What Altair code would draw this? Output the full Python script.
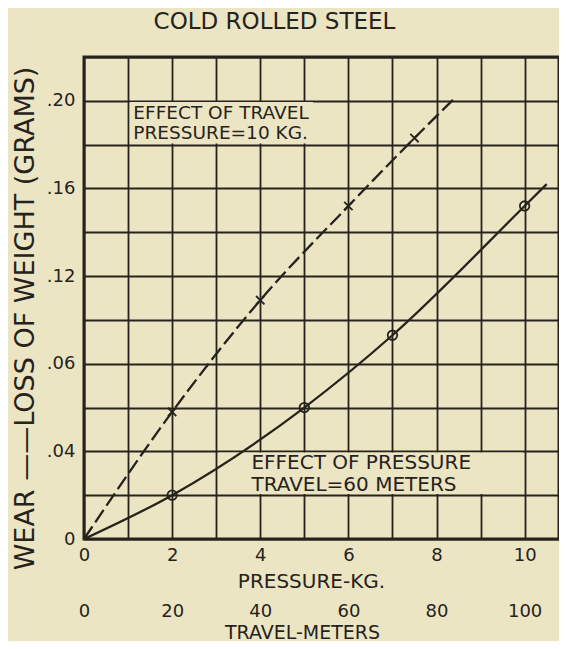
import altair as alt
import pandas as pd

# ---------------- data ----------------
# Effect of pressure (travel = 60 m): pressure [kg] vs wear [g]
pressure_pts_x = [2, 5, 7, 10]
pressure_pts_y = [0.020, 0.060, 0.093, 0.152]
pressure_curve_x = [0, 2, 5, 7, 10, 10.5]
pressure_curve_y = [0, 0.020, 0.060, 0.093, 0.152, 0.162]

# Effect of travel (pressure = 10 kg): travel [m] vs wear [g]
travel_pts_x = [20, 40, 60, 75]
travel_pts_y = [0.058, 0.109, 0.152, 0.183]
travel_curve_x = [0, 20, 40, 60, 75, 84.5]
travel_curve_y = [0, 0.058, 0.109, 0.152, 0.183, 0.202]

x_grid_values = [0, 1, 2, 3, 4, 5, 6, 7, 8, 9, 10]
x_label_values = [0, 2, 4, 6, 8, 10]
travel_tick_values = [0, 20, 40, 60, 80, 100]
y_grid_values = [0, 0.02, 0.04, 0.06, 0.08, 0.10, 0.12, 0.14, 0.16, 0.18, 0.20, 0.22]
y_label_values = [0, 0.04, 0.08, 0.12, 0.16, 0.20]
y_label_texts = ["0", ".04", ".06", ".12", ".16", ".20"]

travel_note = ["EFFECT OF TRAVEL\nPRESSURE=10 KG."]
travel_note_x = [1.12]
travel_note_y = [0.1985]
pressure_note = ["EFFECT OF PRESSURE\nTRAVEL=60 METERS"]
pressure_note_x = [3.8]
pressure_note_y = [0.0392]
box_x1 = [1.04, 3.05]
box_x2 = [5.2, 9.95]
box_y1 = [0.1805, 0.0205]
box_y2 = [0.1995, 0.0395]

# ---------------- styling ----------------
BG = "#ECE5C4"
INK = "#26221c"
FONT = "DejaVu Sans"

y_expr = " : ".join(
    f"round(datum.value*100) == {round(v * 100)} ? '{t}'" for v, t in zip(y_label_values, y_label_texts)
) + " : ''"
x_expr = "indexof(" + str(x_label_values) + ", datum.value) >= 0 ? datum.label : ''"

y_scale = alt.Scale(domain=[0, 0.22], nice=False, zero=True)
p_scale = alt.Scale(domain=[0, 10.78], nice=False)
t_scale = alt.Scale(domain=[0, 107.8], nice=False)

y_axis = alt.Axis(
    values=y_grid_values, labelExpr=y_expr, grid=True, ticks=False, domain=False,
    labelFontSize=18, labelPadding=9, labelFont=FONT, labelColor=INK,
    title="WEAR ——LOSS OF WEIGHT (GRAMS)", titleFontSize=27, titleFont=FONT,
    titleFontWeight="normal", titleColor=INK, titleX=-59, titleY=261,
    titleAngle=270, titleBaseline="middle", titleAlign="center",
)
p_axis = alt.Axis(
    values=x_grid_values, labelExpr=x_expr, grid=True, ticks=False, domain=False,
    labelFontSize=18, labelPadding=7, labelFont=FONT, labelColor=INK, labelFlush=False,
    title="PRESSURE-KG.", titleFontSize=20, titleFont=FONT, titleFontWeight="normal",
    titleColor=INK, titleX=227, titleY=42, titleBaseline="middle", orient="bottom",
)
t_axis = alt.Axis(
    values=travel_tick_values, grid=False, ticks=False, domain=False, orient="bottom", offset=57,
    labelFontSize=18, labelPadding=6, labelFont=FONT, labelColor=INK, labelFlush=False,
    title="TRAVEL-METERS", titleFontSize=19, titleFont=FONT, titleFontWeight="normal",
    titleColor=INK, titleX=218, titleY=36, titleBaseline="middle",
)

p_curve = pd.DataFrame({"p": pressure_curve_x, "w": pressure_curve_y})
p_pts = pd.DataFrame({"p": pressure_pts_x, "w": pressure_pts_y})
t_curve = pd.DataFrame({"t": travel_curve_x, "w": travel_curve_y})
t_pts = pd.DataFrame({"t": travel_pts_x, "w": travel_pts_y})
note_t = pd.DataFrame({"p": travel_note_x, "w": travel_note_y, "txt": travel_note})
note_p = pd.DataFrame({"p": pressure_note_x, "w": pressure_note_y, "txt": pressure_note})
boxes = pd.DataFrame({"p": box_x1, "p2": box_x2, "w": box_y1, "w2": box_y2})

px = alt.X("p:Q", scale=p_scale, axis=p_axis)
wy = alt.Y("w:Q", scale=y_scale, axis=y_axis)

box_layer = alt.Chart(boxes).mark_rect(fill=BG, stroke=None).encode(
    x=px, x2="p2:Q", y=wy, y2="w2:Q"
)
note_t_layer = alt.Chart(note_t).mark_text(
    align="left", baseline="top", font=FONT, fontSize=18.5, lineHeight=20, color=INK,
    lineBreak="\n",
).encode(x=px, y=wy, text="txt:N")
note_p_layer = alt.Chart(note_p).mark_text(
    align="left", baseline="top", font=FONT, fontSize=20, lineHeight=22, color=INK,
    lineBreak="\n",
).encode(x=px, y=wy, text="txt:N")
p_line = alt.Chart(p_curve).mark_line(
    color=INK, strokeWidth=2.3, interpolate="monotone"
).encode(x=px, y=wy)
p_marks = alt.Chart(p_pts).mark_point(
    shape="circle", filled=False, size=90, color=INK, strokeWidth=1.8, opacity=1
).encode(x=px, y=wy)

tx = alt.X("t:Q", scale=t_scale, axis=t_axis)
t_line = alt.Chart(t_curve).mark_line(
    color=INK, strokeWidth=2.3, strokeDash=[15, 5], interpolate="monotone"
).encode(x=tx, y=alt.Y("w:Q", scale=y_scale))
t_marks = alt.Chart(t_pts).mark_point(
    shape="M-1,-1L1,1M-1,1L1,-1", filled=False, size=70, color=INK, strokeWidth=1.8, opacity=1
).encode(x=tx, y=alt.Y("w:Q", scale=y_scale))

pressure_layer = alt.layer(box_layer, note_t_layer, note_p_layer, p_line, p_marks)
travel_layer = alt.layer(t_line, t_marks)

chart = (
    alt.layer(pressure_layer, travel_layer)
    .resolve_scale(x="independent")
    .resolve_axis(x="independent")
    .properties(
        width=475, height=482,
        autosize=alt.AutoSizeParams(type="none"),
        padding={"left": 76, "top": 49, "right": 0, "bottom": 102},
        background=BG,
        title=alt.TitleParams(
            "COLD ROLLED STEEL", fontSize=23, font=FONT, fontWeight="normal", color=INK,
            anchor="middle", dx=-47, offset=23, frame="group",
        ),
    )
    .configure_view(stroke=INK, strokeWidth=3)
    .configure_axis(gridColor=INK, gridWidth=1.8, gridOpacity=1)
)

chart.save("out.html", embed_options={"renderer": "svg", "actions": False})
